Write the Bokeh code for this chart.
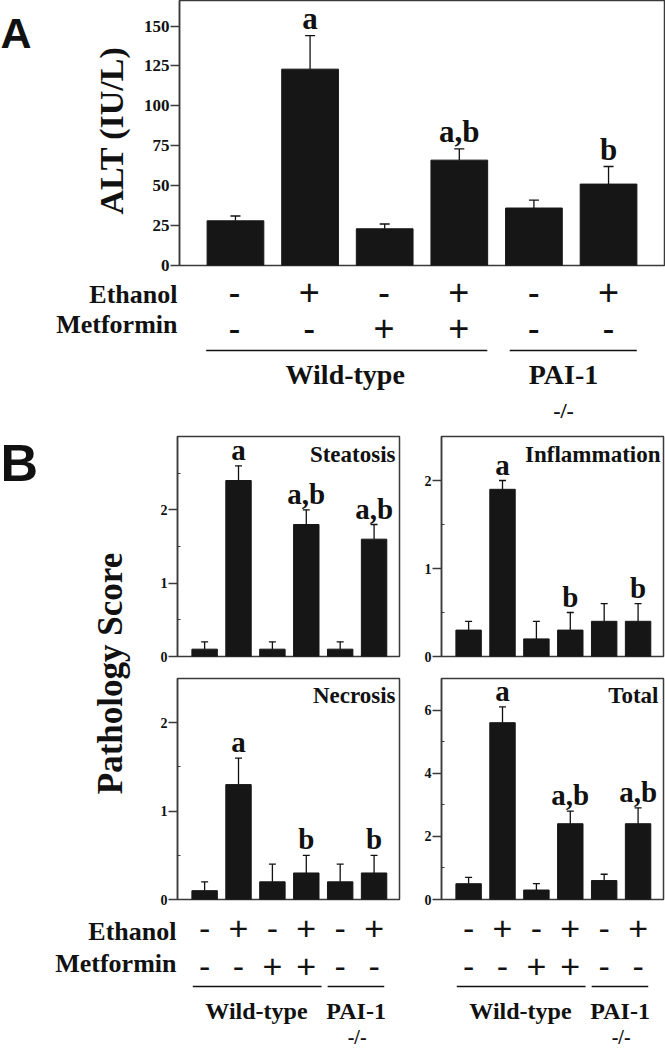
import math
from bokeh.plotting import figure
from bokeh.models import (ColumnDataSource, Range1d, LabelSet, Whisker,
                          TeeHead, FixedTicker)
from bokeh.core.properties import value
from bokeh.layouts import column, row
from bokeh.embed import file_html
from bokeh.resources import INLINE

# ---------------- data ----------------
groups = [0, 1, 2, 3, 4, 5]
ethanol = ["-", "+", "-", "+", "-", "+"]
metformin = ["-", "-", "+", "+", "-", "-"]
row_labels = ["Ethanol", "Metformin"]
strain_labels = ["Wild-type", "PAI-1", "-/-"]

alt_mean = [28, 123, 23, 66, 36, 51]
alt_sem = [3, 21, 3, 7, 5, 11]
alt_sig = ["", "a", "", "a,b", "", "b"]
alt_ticks = [0, 25, 50, 75, 100, 125, 150]

steatosis_mean = [0.1, 2.4, 0.1, 1.8, 0.1, 1.6]
steatosis_sem = [0.1, 0.2, 0.1, 0.2, 0.1, 0.2]
steatosis_sig = ["", "a", "", "a,b", "", "a,b"]
steatosis_ticks = [0, 1, 2]
steatosis_minor = [0.5, 1.5, 2.5]

inflammation_mean = [0.3, 1.9, 0.2, 0.3, 0.4, 0.4]
inflammation_sem = [0.1, 0.1, 0.2, 0.2, 0.2, 0.2]
inflammation_sig = ["", "a", "", "b", "", "b"]
inflammation_ticks = [0, 1, 2]
inflammation_minor = [0.5, 1.5]

necrosis_mean = [0.1, 1.3, 0.2, 0.3, 0.2, 0.3]
necrosis_sem = [0.1, 0.3, 0.2, 0.2, 0.2, 0.2]
necrosis_sig = ["", "a", "", "b", "", "b"]
necrosis_ticks = [0, 1, 2]
necrosis_minor = [0.5, 1.5]

total_mean = [0.5, 5.6, 0.3, 2.4, 0.6, 2.4]
total_sem = [0.2, 0.5, 0.2, 0.4, 0.2, 0.5]
total_sig = ["", "a", "", "a,b", "", "a,b"]
total_ticks = [0, 2, 4, 6]
total_minor = [1, 3, 5]

# ---------------- style ----------------
SERIF = "Liberation Serif"
SANS = "Liberation Sans"
INK = "#111111"
BAR = "#161616"
FRAME = "#3a3a3a"


def geo(fl, fr, ft, fb, xr, yr):
    """page-pixel -> data converters for a figure whose frame is at (fl..fr, ft..fb)."""
    def fx(px):
        return xr[0] + (px - fl) / (fr - fl) * (xr[1] - xr[0])

    def fy(py):
        return yr[0] + (fb - py) / (fb - ft) * (yr[1] - yr[0])
    return fx, fy


def txt(p, x, y, text, size, font=SERIF, style="bold", align="left", angle=0.0):
    p.text(x=[x], y=[y], text=[text], text_font=value(font), text_font_style=style,
           text_font_size=f"{size}px", text_align=align, text_baseline="middle",
           angle=angle, text_color=INK)


def txt_row(p, ys, signs, size):
    src = ColumnDataSource(dict(x=groups, y=[ys] * len(groups), t=signs))
    p.text(x="x", y="y", text="t", source=src, text_font=value(SANS),
           text_font_style="normal", text_font_size=f"{size}px", text_align="center",
           text_baseline="middle", text_color=INK)


def hline(p, x0, x1, y):
    p.segment(x0=[x0], y0=[y], x1=[x1], y1=[y], line_color=INK, line_width=1.3)


def base_fig(width, height, bl, br, bt, bb, xr, yr, yaxis=True):
    p = figure(width=width, height=height, x_range=xr, y_range=yr,
               output_backend="svg", toolbar_location=None,
               x_axis_location=None, y_axis_location="left" if yaxis else None,
               min_border_left=bl, min_border_right=br,
               min_border_top=bt, min_border_bottom=bb,
               background_fill_color="white", border_fill_color="white")
    p.grid.visible = False
    if yaxis:
        p.outline_line_color = FRAME
        p.outline_line_width = 1.5
    else:
        p.outline_line_color = None
    return p


def style_yaxis(p, ticks, minors, size):
    ax = p.yaxis[0]
    ax.ticker = FixedTicker(ticks=ticks, minor_ticks=minors)
    ax.axis_line_color = FRAME
    ax.axis_line_width = 1.5
    ax.major_tick_line_color = FRAME
    ax.major_tick_line_width = 1.5
    ax.major_tick_out = 9
    ax.major_tick_in = 0
    ax.minor_tick_line_color = FRAME
    ax.minor_tick_line_width = 1.2
    ax.minor_tick_in = 3
    ax.minor_tick_out = 0
    ax.major_label_standoff = 1
    ax.major_label_text_font = SERIF
    ax.major_label_text_font_style = "bold"
    ax.major_label_text_font_size = f"{size}px"
    ax.major_label_text_color = INK


def draw_bars(p, mean, sem, sig, width, head, letter_size, offset):
    src = ColumnDataSource(dict(x=groups, top=mean,
                                upper=[m + s for m, s in zip(mean, sem)], sig=sig))
    p.vbar(x="x", top="top", width=width, source=src, fill_color=BAR, line_color=BAR)
    p.add_layout(Whisker(source=src, base="x", lower="top", upper="upper",
                         line_color=INK, line_width=1.3, lower_head=None,
                         upper_head=TeeHead(size=head, line_color=INK, line_width=1.3)))
    p.add_layout(LabelSet(source=src, x="x", y="upper", text="sig", y_offset=offset,
                          text_align="center", text_baseline="alphabetic",
                          text_font=value(SERIF), text_font_style="bold",
                          text_font_size=f"{letter_size}px", text_color=INK))


# ================= Panel A =================
AX = (-0.75, 5.75)
AY = (0, 166)
ax_, ay_ = geo(178, 664, 0, 265, AX, AY)
A_H = 271  # bar strip height (frame 0..265 plus room for the "0" label)

# left strip: panel letter + axis title
pal = base_fig(140, A_H, 0, 0, 0, 0, Range1d(0, 140), Range1d(A_H, 0), yaxis=False)
txt(pal, 0, 33, "A", 43, font=SANS)
txt(pal, 111, 133, "ALT (IU/L)", 34, align="center", angle=math.pi / 2)

# bars
pa = base_fig(525, A_H, 38, 1, 0, A_H - 265, Range1d(*AX), Range1d(*AY))
style_yaxis(pa, alt_ticks, [], 17)
pa.yaxis[0].minor_tick_line_color = None
draw_bars(pa, alt_mean, alt_sem, alt_sig, 0.76, 10, 31, 7)

# treatment table under panel A (x mapped to the same bar positions)
pab = base_fig(665, 430 - A_H, 0, 0, 0, 0, Range1d(ax_(0), ax_(665)),
               Range1d(430 - A_H, 0), yaxis=False)
oy = lambda py: py - A_H
txt(pab, ax_(177), oy(294), row_labels[0], 26, align="right")
txt(pab, ax_(177), oy(324), row_labels[1], 26, align="right")
txt_row(pab, oy(291.3), ethanol, 36)
txt_row(pab, oy(327), metformin, 36)
hline(pab, -0.38, 3.38, oy(350))
hline(pab, 3.68, 5.38, oy(350))
txt(pab, 1.48, oy(374), strain_labels[0], 28, align="center")
txt(pab, 4.40, oy(374), strain_labels[1], 28, align="center")
txt(pab, 4.40, oy(409.5), strain_labels[2], 22, align="center")

# ================= Panel B =================
BX = (-0.8, 5.75)
xrL = Range1d(*BX)
xrR = Range1d(*BX)
B_BOT = 907  # top of the treatment table under panel B

# label column (B, Pathology Score)
pl = base_fig(140, B_BOT - 430, 0, 0, 0, 0, Range1d(0, 140), Range1d(B_BOT - 430, 0),
              yaxis=False)
txt(pl, 0, 462 - 430, "B", 52, font=SANS)
txt(pl, 110, 673 - 430, "Pathology Score", 35, align="center", angle=math.pi / 2)

# Steatosis
b1 = base_fig(280, 237, 37, 21, 6, 11, xrL, Range1d(0, 3))
style_yaxis(b1, steatosis_ticks, steatosis_minor, 14)
draw_bars(b1, steatosis_mean, steatosis_sem, steatosis_sig, 0.75, 7, 29, 6)
fx, fy = geo(177, 399, 436, 656, BX, (0, 3))
txt(b1, fx(395), fy(453.5), "Steatosis", 23, align="right")

# Inflammation
b2 = base_fig(245, 237, 21, 2, 6, 11, xrR, Range1d(0, 2.5))
style_yaxis(b2, inflammation_ticks, inflammation_minor, 14)
draw_bars(b2, inflammation_mean, inflammation_sem, inflammation_sig, 0.75, 7, 29, 6)
fx, fy = geo(441, 663, 436, 656, BX, (0, 2.5))
txt(b2, fx(660), fy(454), "Inflammation", 23, align="right")

# Necrosis
b3 = base_fig(280, B_BOT - 667, 37, 21, 11, B_BOT - 899, xrL, Range1d(0, 2.5))
style_yaxis(b3, necrosis_ticks, necrosis_minor, 14)
draw_bars(b3, necrosis_mean, necrosis_sem, necrosis_sig, 0.75, 7, 29, 6)
fx, fy = geo(177, 399, 678, 899, BX, (0, 2.5))
txt(b3, fx(395), fy(694.5), "Necrosis", 23, align="right")

# Total
b4 = base_fig(245, B_BOT - 667, 21, 2, 11, B_BOT - 899, xrR, Range1d(0, 7))
style_yaxis(b4, total_ticks, total_minor, 14)
draw_bars(b4, total_mean, total_sem, total_sig, 0.75, 7, 29, 6)
fx, fy = geo(441, 663, 678, 899, BX, (0, 7))
txt(b4, fx(658), fy(694.5), "Total", 23, align="right")


def bottom(p0, p1, fl, fr, with_rows):
    bx, _ = geo(fl, fr, 0, 1, BX, (0, 1))
    h = 1048 - B_BOT
    p = base_fig(p1 - p0, h, 0, 0, 0, 0, Range1d(bx(p0), bx(p1)), Range1d(h, 0),
                 yaxis=False)
    by = lambda py: py - B_BOT
    if with_rows:
        txt(p, bx(176), by(930.5), row_labels[0], 26, align="right")
        txt(p, bx(176), by(962.5), row_labels[1], 26, align="right")
    txt_row(p, by(928), ethanol, 34)
    txt_row(p, by(966), metformin, 34)
    hline(p, -0.35, 3.45, by(986))
    hline(p, 3.63, 5.30, by(986))
    txt(p, 1.53, by(1010), strain_labels[0], 24, align="center")
    txt(p, 4.47, by(1010), strain_labels[1], 24, align="center")
    txt(p, 4.50, by(1036), strain_labels[2], 20, align="center")
    return p


bl_ = bottom(0, 420, 177, 399, True)
br_ = bottom(420, 665, 441, 663, False)

layout = column(
    row(pal, pa),
    pab,
    row(pl, column(row(b1, b2), row(b3, b4))),
    row(bl_, br_),
)

open("out.html", "w").write(file_html(layout, INLINE))
